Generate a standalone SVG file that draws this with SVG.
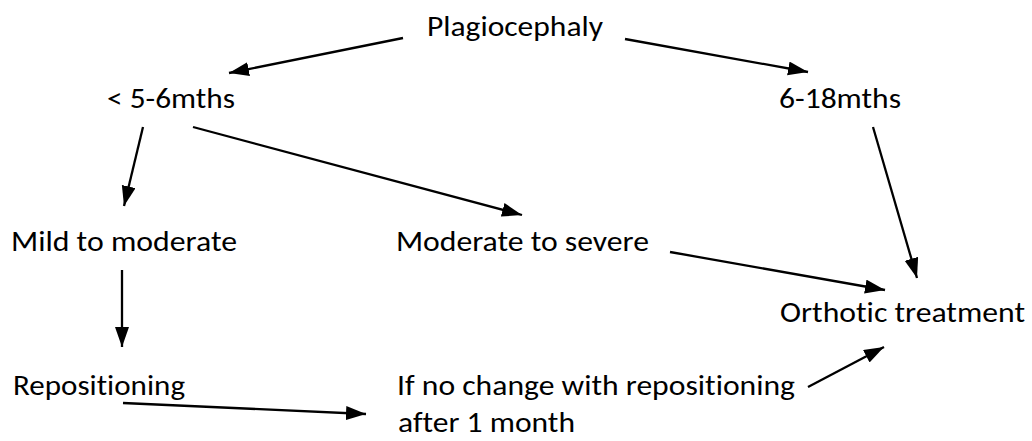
<svg xmlns="http://www.w3.org/2000/svg" width="1032" height="441" viewBox="0 0 1032 441">
  <defs>
    <style>
      text { font-family: Carlito, Calibri, Lato, "Liberation Sans", sans-serif; font-size: 29px; fill: #000; font-variant-ligatures: none; }
      .c { stroke: #000; stroke-width: 2.3; fill: none; marker-end: url(#ah); }
    </style>
    <marker id="ah" markerUnits="userSpaceOnUse" markerWidth="22" markerHeight="16" refX="20" refY="7" orient="auto">
      <path d="M0,0 L20,7 L0,14 z" fill="#000"/>
    </marker>
  </defs>
  <rect width="1032" height="441" fill="#fff"/>
  <g id="n-plagio"><text x="427" y="36" textLength="176" lengthAdjust="spacingAndGlyphs">Plagiocephaly</text></g>
  <g id="n-lt5"><text x="107" y="108" textLength="128" lengthAdjust="spacingAndGlyphs">&lt; 5-6mths</text></g>
  <g id="n-618"><text x="779" y="108" textLength="122" lengthAdjust="spacingAndGlyphs">6-18mths</text></g>
  <g id="n-mild"><text x="11" y="251" textLength="226" lengthAdjust="spacingAndGlyphs">Mild to moderate</text></g>
  <g id="n-mod"><text x="396" y="251" textLength="253" lengthAdjust="spacingAndGlyphs">Moderate to severe</text></g>
  <g id="n-orth"><text x="780" y="322" textLength="245" lengthAdjust="spacingAndGlyphs">Orthotic treatment</text></g>
  <g id="n-repos"><text x="13" y="395" textLength="172" lengthAdjust="spacingAndGlyphs">Repositioning</text></g>
  <g id="n-nochange">
    <text x="397" y="395" textLength="398" lengthAdjust="spacingAndGlyphs">If no change with repositioning</text>
    <text x="398" y="432" textLength="177" lengthAdjust="spacingAndGlyphs">after 1 month</text>
  </g>
  <g id="connectors">
    <line class="c" x1="403" y1="38" x2="229" y2="73"/>
    <line class="c" x1="625" y1="39" x2="808" y2="72"/>
    <line class="c" x1="143" y1="127" x2="124" y2="206"/>
    <line class="c" x1="193" y1="127" x2="522" y2="215"/>
    <line class="c" x1="873" y1="127" x2="917" y2="278"/>
    <line class="c" x1="670" y1="252" x2="885" y2="290"/>
    <line class="c" x1="123" y1="403" x2="366" y2="414"/>
    <line class="c" x1="808" y1="387" x2="884" y2="347"/>
    <line class="c" x1="122" y1="270" x2="122" y2="347"/>
  </g>
</svg>
